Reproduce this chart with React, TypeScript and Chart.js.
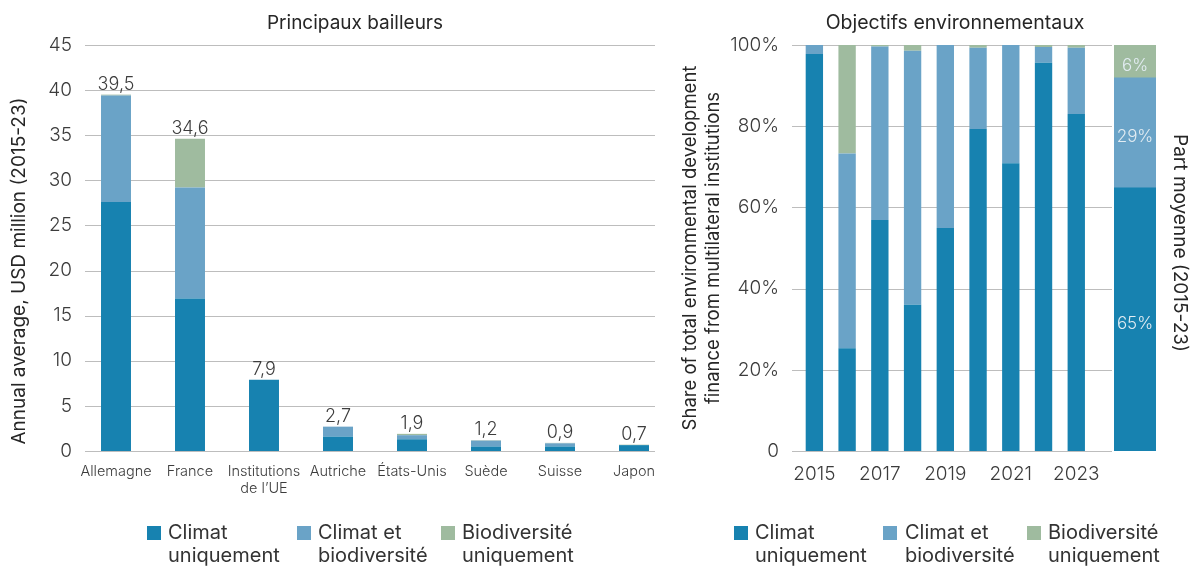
import React, { useEffect, useRef } from "react";
import { Chart, registerables } from "chart.js";

Chart.register(...registerables);

// ---------- data ----------
const donorLabels: (string | string[])[] = [
  "Allemagne",
  "France",
  ["Institutions", "de l’UE"],
  "Autriche",
  "États-Unis",
  "Suède",
  "Suisse",
  "Japon",
];
const donorClimat = [27.6, 16.9, 7.9, 1.6, 1.3, 0.5, 0.5, 0.65];
const donorBoth = [11.8, 12.3, 0, 1.1, 0.45, 0.65, 0.35, 0];
const donorBio = [0.1, 5.4, 0, 0, 0.15, 0.05, 0.05, 0.05];

const years = ["2015", "2016", "2017", "2018", "2019", "2020", "2021", "2022", "2023"];
const yearClimat = [97.8, 25.3, 56.9, 36.0, 54.9, 79.3, 70.9, 95.6, 83.0];
const yearBoth = [2.2, 48.0, 42.7, 62.6, 45.1, 20.0, 29.1, 3.9, 16.3];
const yearBio = [0, 26.7, 0.4, 1.4, 0, 0.7, 0, 0.5, 0.7];

const avgCategory = ["Part moyenne"];
const avgClimat = [64.8];
const avgBoth = [27.1];
const avgBio = [8.1];
const avgLabels = ["65%", "29%", "6%"];

const seriesNames = ["Climat uniquement", "Climat et biodiversité", "Biodiversité uniquement"];
const legendLines = [
  ["Climat", "uniquement"],
  ["Climat et", "biodiversité"],
  ["Biodiversité", "uniquement"],
];

// ---------- style ----------
const COLORS = ["#1782b0", "#6aa3c7", "#9fbb9f"];
const GRID = "#bdbdbd";
const TICK = "#3c3c3c";
const TITLE = "#262626";
const FONT = "Inter, 'Noto Sans', 'DejaVu Sans', sans-serif";
const H = 567;
const BOTTOM = 451;

Chart.defaults.font.family = FONT;

type TextItem = {
  text: string;
  x: number;
  y: number;
  rot?: number;
  size: number;
  weight?: string;
  color: string;
};

const gridPlugin = (x1: number, x2: number) => ({
  id: "customGrid",
  beforeDatasetsDraw(chart: any) {
    const ys = chart.scales.y;
    const ctx = chart.ctx;
    ctx.save();
    ctx.strokeStyle = GRID;
    ctx.lineWidth = 1.2;
    ys.ticks.forEach((t: any) => {
      const y = Math.round(ys.getPixelForValue(t.value)) + 0.5;
      ctx.beginPath();
      ctx.moveTo(x1, y);
      ctx.lineTo(x2, y);
      ctx.stroke();
    });
    ctx.restore();
  },
});

const textPlugin = (items: TextItem[]) => ({
  id: "customTexts",
  afterDraw(chart: any) {
    const ctx = chart.ctx;
    items.forEach((it) => {
      ctx.save();
      ctx.translate(it.x, it.y);
      if (it.rot) ctx.rotate(it.rot);
      ctx.font = `${it.weight || "400"} ${it.size}px ${FONT}`;
      ctx.fillStyle = it.color;
      ctx.textAlign = "center";
      ctx.textBaseline = "middle";
      ctx.fillText(it.text, 0, 0);
      ctx.restore();
    });
  },
});

const totalsPlugin = {
  id: "totals",
  afterDatasetsDraw(chart: any) {
    const ctx = chart.ctx;
    const ys = chart.scales.y;
    const n = chart.data.labels.length;
    ctx.save();
    ctx.font = `300 18px ${FONT}`;
    ctx.fillStyle = TICK;
    ctx.textAlign = "center";
    ctx.textBaseline = "alphabetic";
    for (let i = 0; i < n; i++) {
      let total = 0;
      chart.data.datasets.forEach((d: any) => (total += d.data[i]));
      const el = chart.getDatasetMeta(0).data[i];
      const y = ys.getPixelForValue(total) - 5;
      ctx.fillText(total.toFixed(1).replace(".", ","), el.x, y);
    }
    ctx.restore();
  },
};

const insideLabelsPlugin = {
  id: "inside",
  afterDatasetsDraw(chart: any) {
    const ctx = chart.ctx;
    const area = chart.chartArea;
    const ys = chart.scales.y;
    ctx.save();
    ctx.font = `300 17px ${FONT}`;
    ctx.fillStyle = "#e3edf3";
    ctx.textAlign = "center";
    ctx.textBaseline = "middle";
    let cum = 0;
    chart.data.datasets.forEach((d: any, di: number) => {
      const v = d.data[0];
      const yMid = (ys.getPixelForValue(cum) + ys.getPixelForValue(cum + v)) / 2;
      cum += v;
      ctx.fillText(avgLabels[di], (area.left + area.right) / 2, yMid + 4);
    });
    ctx.restore();
  },
};

function makeDatasets(a: number[], b: number[], c: number[]) {
  return [a, b, c].map((d, i) => ({
    label: seriesNames[i],
    data: d,
    backgroundColor: COLORS[i],
    borderWidth: 0,
  }));
}

function Legend({ squares, texts }: { squares: number[]; texts: number[] }) {
  return (
    <>
      {legendLines.map((lines, i) => (
        <React.Fragment key={i}>
          <div
            style={{
              position: "absolute",
              left: squares[i],
              top: 526,
              width: 14,
              height: 14,
              background: COLORS[i],
            }}
          />
          <div
            style={{
              position: "absolute",
              left: texts[i],
              top: 521,
              font: `400 20px/23px ${FONT}`,
              color: "#333",
              whiteSpace: "nowrap",
            }}
          >
            {lines[0]}
            <br />
            {lines[1]}
          </div>
        </React.Fragment>
      ))}
    </>
  );
}

export default function App() {
  const leftRef = useRef<HTMLCanvasElement>(null);
  const rightRef = useRef<HTMLCanvasElement>(null);
  const avgRef = useRef<HTMLCanvasElement>(null);

  useEffect(() => {
    document.body.style.margin = "0";
    const charts: Chart[] = [];

    charts.push(
      new Chart(leftRef.current!, {
        type: "bar",
        data: { labels: donorLabels as any, datasets: makeDatasets(donorClimat, donorBoth, donorBio) as any },
        options: {
          animation: false,
          responsive: false,
          maintainAspectRatio: false,
          layout: { padding: { top: 45, right: 9, left: 0, bottom: 0 } },
          datasets: { bar: { categoryPercentage: 1, barPercentage: 0.405 } },
          plugins: { legend: { display: false }, tooltip: { enabled: false }, title: { display: false } },
          scales: {
            x: {
              stacked: true,
              grid: { display: false, drawTicks: false },
              border: { display: false },
              ticks: {
                autoSkip: false,
                maxRotation: 0,
                padding: 13,
                color: TICK,
                font: { size: 14.5, weight: "300" as any, lineHeight: 1.12 },
              },
              afterFit: (s: any) => {
                s.height = H - BOTTOM;
              },
            },
            y: {
              stacked: true,
              min: 0,
              max: 45,
              grid: { display: false, drawTicks: false },
              border: { display: false },
              ticks: { stepSize: 5, padding: 7, color: TICK, font: { size: 19, weight: "300" as any } },
              afterFit: (s: any) => {
                s.width = 79;
              },
            },
          },
        },
        plugins: [
          gridPlugin(85, 655),
          totalsPlugin,
          textPlugin([
            { text: "Principaux bailleurs", x: 355, y: 23, size: 19, color: TITLE },
            {
              text: "Annual average, USD million (2015-23)",
              x: 19,
              y: 271,
              rot: -Math.PI / 2,
              size: 19,
              color: TITLE,
            },
          ]),
        ],
      })
    );

    charts.push(
      new Chart(rightRef.current!, {
        type: "bar",
        data: { labels: years, datasets: makeDatasets(yearClimat, yearBoth, yearBio) as any },
        options: {
          animation: false,
          responsive: false,
          maintainAspectRatio: false,
          layout: { padding: { top: 45, right: 8, left: 0, bottom: 0 } },
          datasets: { bar: { categoryPercentage: 1, barPercentage: 0.53 } },
          plugins: { legend: { display: false }, tooltip: { enabled: false }, title: { display: false } },
          scales: {
            x: {
              stacked: true,
              grid: { display: false, drawTicks: false },
              border: { display: false },
              ticks: {
                autoSkip: false,
                maxRotation: 0,
                padding: 12,
                color: TICK,
                font: { size: 19, weight: "300" as any },
                callback: (_v: any, i: number) => (i % 2 === 0 ? years[i] : ""),
              },
              afterFit: (s: any) => {
                s.height = H - BOTTOM;
              },
            },
            y: {
              stacked: true,
              min: 0,
              max: 100,
              grid: { display: false, drawTicks: false },
              border: { display: false },
              ticks: {
                stepSize: 20,
                padding: 19,
                color: TICK,
                font: { size: 19, weight: "300" as any },
                callback: (v: any) => (v === 0 ? "0" : `${v}%`),
              },
              afterFit: (s: any) => {
                s.width = 118;
              },
            },
          },
        },
        plugins: [
          gridPlugin(112, 432),
          textPlugin([
            { text: "Objectifs environnementaux", x: 275, y: 23, size: 19.5, color: TITLE },
            {
              text: "Share of total environmental development",
              x: 10,
              y: 248,
              rot: -Math.PI / 2,
              size: 18.5,
              color: TITLE,
            },
            {
              text: "finance from multilateral institutions",
              x: 33,
              y: 248,
              rot: -Math.PI / 2,
              size: 18.5,
              color: TITLE,
            },
          ]),
        ],
      })
    );

    charts.push(
      new Chart(avgRef.current!, {
        type: "bar",
        data: { labels: avgCategory, datasets: makeDatasets(avgClimat, avgBoth, avgBio) as any },
        options: {
          animation: false,
          responsive: false,
          maintainAspectRatio: false,
          layout: { padding: { top: 45, right: 36, left: 2, bottom: H - BOTTOM } },
          datasets: { bar: { categoryPercentage: 1, barPercentage: 1 } },
          plugins: { legend: { display: false }, tooltip: { enabled: false }, title: { display: false } },
          scales: {
            x: { stacked: true, display: false },
            y: { stacked: true, display: false, min: 0, max: 100 },
          },
        },
        plugins: [
          insideLabelsPlugin,
          textPlugin([
            {
              text: "Part moyenne (2015-23)",
              x: 68,
              y: 243,
              rot: Math.PI / 2,
              size: 19,
              color: TITLE,
            },
          ]),
        ],
      })
    );

    return () => charts.forEach((c) => c.destroy());
  }, []);

  return (
    <div
      style={{
        position: "absolute",
        left: 0,
        top: 0,
        width: 1192,
        height: H,
        background: "#fff",
        overflow: "hidden",
      }}
    >
      <canvas ref={leftRef} width={680} height={H} style={{ position: "absolute", left: 0, top: 0 }} />
      <canvas ref={rightRef} width={432} height={H} style={{ position: "absolute", left: 680, top: 0 }} />
      <canvas ref={avgRef} width={80} height={H} style={{ position: "absolute", left: 1112, top: 0 }} />
      <Legend squares={[147, 297, 441]} texts={[168, 318, 462]} />
      <Legend squares={[734, 883, 1027]} texts={[755, 905, 1048]} />
    </div>
  );
}
